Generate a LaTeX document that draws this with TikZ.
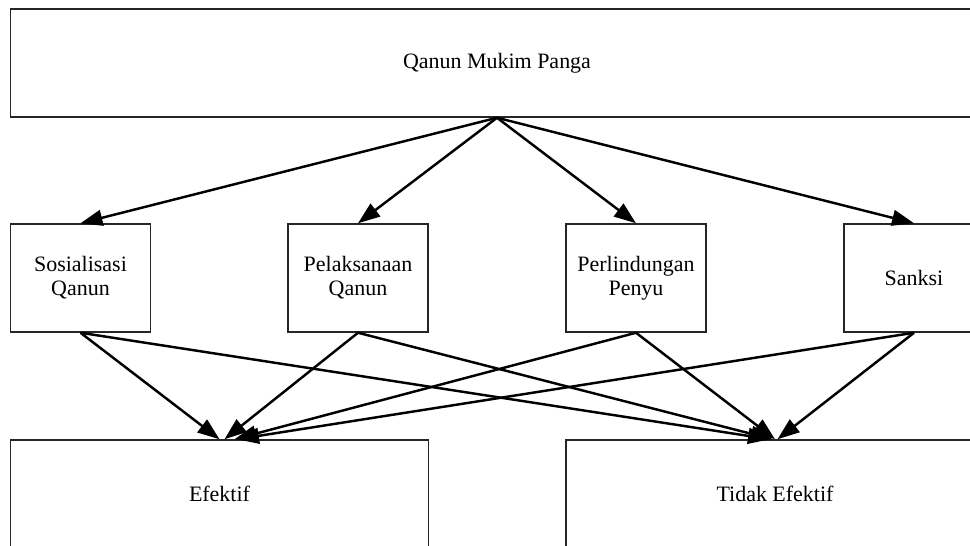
\documentclass[tikz,border=0pt]{standalone}
\usepackage{fontspec}
\setmainfont{Liberation Serif}
\usepackage{tikz}
\usetikzlibrary{arrows.meta,positioning,calc}

\begin{document}
\begin{tikzpicture}[
    box/.style={rectangle, draw=black!85, line width=0.85pt, fill=white, align=center, minimum height=2.16cm, inner sep=0pt, font=\fontsize{12.5}{13.5}\selectfont},
    arrow/.style={-{Triangle[length=12.5pt,width=9pt]}, line width=1.4pt}
]
    \useasboundingbox (0,0) rectangle (19.4,-10.92);
    \clip (0,0) rectangle (19.4,-10.92);

    \node[box, minimum width=19.46cm] (qanun) at (9.94,-1.26) {Qanun Mukim Panga};

    \node[box, minimum width=2.8cm] (sos) at (1.61,-5.56) {Sosialisasi\\Qanun};
    \node[box, minimum width=2.8cm] (pel) at (7.16,-5.56) {Pelaksanaan\\Qanun};
    \node[box, minimum width=2.8cm] (per) at (12.72,-5.56) {Perlindungan\\Penyu};
    \node[box, minimum width=2.8cm] (san) at (18.28,-5.56) {Sanksi};

    \node[box, minimum width=8.36cm] (ef) at (4.39,-9.88) {Efektif};
    \node[box, minimum width=8.36cm] (tef) at (15.5,-9.88) {Tidak Efektif};

    \draw[arrow] (qanun.south) -- (sos.north);
    \draw[arrow] (qanun.south) -- (pel.north);
    \draw[arrow] (qanun.south) -- (per.north);
    \draw[arrow] (qanun.south) -- (san.north);

    \draw[arrow] (sos.south) -- (ef.north);
    \draw[arrow] (pel.south) -- ($(ef.north)+(0.1,0)$);
    \draw[arrow] (per.south) -- ($(ef.north)+(0.3,0)$);
    \draw[arrow] (san.south) -- ($(ef.north)+(0.35,0)$);

    \draw[arrow] (sos.south) -- ($(tef.north)+(-0.1,0)$);
    \draw[arrow] (pel.south) -- ($(tef.north)+(-0.05,0)$);
    \draw[arrow] (per.south) -- (tef.north);
    \draw[arrow] (san.south) -- ($(tef.north)+(0.05,0)$);
\end{tikzpicture}
\end{document}
